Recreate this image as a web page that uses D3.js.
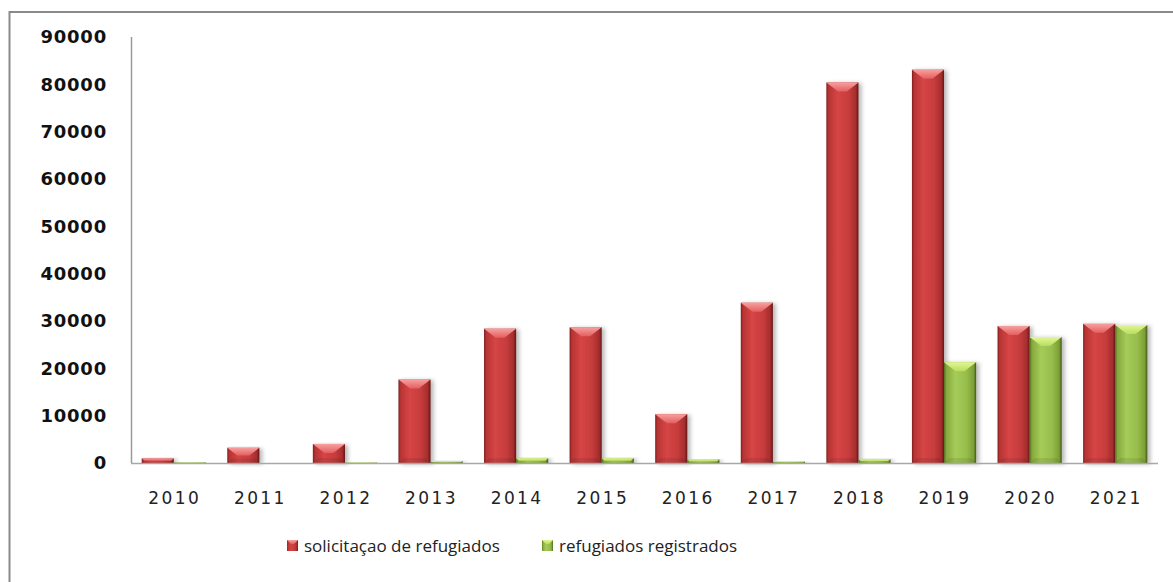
<!DOCTYPE html>
<html>
<head>
<meta charset="utf-8">
<script src="https://cdn.jsdelivr.net/npm/d3@7"></script>
<style>
  body { margin: 0; background: #fff; }
  svg { display: block; }
</style>
</head>
<body>
<script>
let width = 1173
let height = 582

// data
let years = ['2010', '2011', '2012', '2013', '2014', '2015', '2016', '2017', '2018', '2019', '2020', '2021']
let solicitacoes = [966, 3220, 4022, 17631, 28385, 28670, 10308, 33866, 80400, 83100, 28950, 29400]
let registrados = [126, 0, 100, 400, 1000, 1000, 750, 300, 800, 21300, 26600, 29150]
let yTicks = [0, 10000, 20000, 30000, 40000, 50000, 60000, 70000, 80000, 90000]
let seriesNames = ['solicitaçao de refugiados', 'refugiados registrados']

let svg = d3.select('body').append('svg')
  .attr('width', width)
  .attr('height', height)

// outer frame (only left + top show in the picture)
svg.append('rect')
  .attr('x', 9.5).attr('y', 12)
  .attr('width', 1200).attr('height', 600)
  .attr('fill', 'none')
  .attr('stroke', '#8a8a8a')
  .attr('stroke-width', 2)

let defs = svg.append('defs')

let palettes = {
  red: { body: ['#7e1f1f', '#b83434', '#d64545', '#c63c3c', '#a52d2d', '#5e1515'], top: ['#e45f5f', '#f7a0a0'] },
  green: { body: ['#4f6a1f', '#86a83c', '#a5cb58', '#97bd4c', '#7d9f35', '#3f561a'], top: ['#b9dc5e', '#e2f795'] }
}

Object.keys(palettes).forEach(function(k) {
  let p = palettes[k]
  let lg = defs.append('linearGradient').attr('id', 'body-' + k)
    .attr('x1', 0).attr('x2', 1).attr('y1', 0).attr('y2', 0)
  let offs = [0, 0.07, 0.35, 0.7, 0.92, 1]
  offs.forEach(function(o, i) {
    lg.append('stop').attr('offset', o).attr('stop-color', p.body[i])
  })
  let tg = defs.append('linearGradient').attr('id', 'top-' + k)
    .attr('x1', 0).attr('x2', 0).attr('y1', 0).attr('y2', 1)
  tg.append('stop').attr('offset', 0).attr('stop-color', p.top[1])
  tg.append('stop').attr('offset', 1).attr('stop-color', p.top[0])
})

defs.append('filter').attr('id', 'shadow')
  .attr('x', '-20%').attr('y', '-10%').attr('width', '160%').attr('height', '130%')
  .append('feDropShadow')
  .attr('dx', 3).attr('dy', 1)
  .attr('stdDeviation', 2)
  .attr('flood-color', '#000')
  .attr('flood-opacity', 0.28)

let x = d3.scaleBand()
  .domain(years)
  .range([131, 1158])
  .paddingInner(0.25)
  .paddingOuter(0.125)

let xSub = d3.scaleBand()
  .domain([0, 1])
  .range([0, x.bandwidth()])

let y = d3.scaleLinear()
  .domain([0, 90000])
  .range([463, 37])

// y axis line + labels
svg.append('line')
  .attr('x1', 131.5).attr('x2', 131.5)
  .attr('y1', y(90000)).attr('y2', y(0))
  .attr('stroke', '#9a9a9a').attr('stroke-width', 1.5)

svg.selectAll('.ylab')
  .data(yTicks)
  .enter().append('text')
  .attr('class', 'ylab')
  .attr('x', 107)
  .attr('y', d => y(d))
  .attr('dy', '0.36em')
  .attr('text-anchor', 'end')
  .style('font-family', 'DejaVu Sans')
  .style('font-weight', 'bold')
  .style('font-size', '18px')
  .style('letter-spacing', '0.8px')
  .attr('fill', '#111')
  .text(d => d)

let series = [
  { values: solicitacoes, color: 'red' },
  { values: registrados, color: 'green' }
]

series.forEach(function(s, si) {
  let g = svg.append('g')
  years.forEach(function(yr, i) {
    let v = s.values[i]
    if (v <= 0) return
    let bx = x(yr) + xSub(si)
    let bw = xSub.bandwidth()
    let top = y(v)
    let h = y(0) - top
    let bar = g.append('g').attr('filter', 'url(#shadow)')
    bar.append('rect')
      .attr('x', bx).attr('y', top)
      .attr('width', bw).attr('height', h)
      .attr('fill', 'url(#body-' + s.color + ')')
    let b = Math.min(9, h * 0.5)
    let inset = b * 1.3
    bar.append('path')
      .attr('d', 'M' + bx + ',' + top + 'L' + (bx + bw) + ',' + top +
        'L' + (bx + bw - inset) + ',' + (top + b) + 'L' + (bx + inset) + ',' + (top + b) + 'Z')
      .attr('fill', 'url(#top-' + s.color + ')')
    // faint darker bottom bevel
    let bb = Math.min(5, h * 0.3)
    bar.append('path')
      .attr('d', 'M' + bx + ',' + y(0) + 'L' + (bx + bw) + ',' + y(0) +
        'L' + (bx + bw - bb) + ',' + (y(0) - bb) + 'L' + (bx + bb) + ',' + (y(0) - bb) + 'Z')
      .attr('fill', '#000').attr('opacity', 0.08)
  })
})

// baseline
svg.append('line')
  .attr('x1', 131).attr('x2', 1158)
  .attr('y1', y(0) + 0.5).attr('y2', y(0) + 0.5)
  .attr('stroke', '#a8a8a8').attr('stroke-width', 1.5)

// x labels
svg.selectAll('.xlab')
  .data(years)
  .enter().append('text')
  .attr('class', 'xlab')
  .attr('x', d => x(d) + x.bandwidth() / 2 + 1)
  .attr('y', 498)
  .attr('dy', '0.36em')
  .attr('text-anchor', 'middle')
  .style('font-family', 'DejaVu Sans')
  .style('font-size', '17px')
  .style('letter-spacing', '2.4px')
  .attr('fill', '#222')
  .text(d => d)

// legend
let legendX = [287, 542]
let legend = svg.selectAll('.leg')
  .data(seriesNames)
  .enter().append('g')
  .attr('class', 'leg')
  .attr('transform', (d, i) => 'translate(' + legendX[i] + ',546)')

legend.append('rect')
  .attr('x', 0).attr('y', -6)
  .attr('width', 11).attr('height', 11)
  .attr('fill', (d, i) => 'url(#body-' + series[i].color + ')')
legend.append('path')
  .attr('d', 'M0,-6L11,-6L7,-2L4,-2Z')
  .attr('fill', (d, i) => 'url(#top-' + series[i].color + ')')

legend.append('text')
  .attr('x', 17)
  .attr('y', 0)
  .attr('dy', '0.34em')
  .style('font-family', 'Open Sans')
  .style('font-size', '17px')
  .attr('fill', '#222')
  .text(d => d)
</script>
</body>
</html>
